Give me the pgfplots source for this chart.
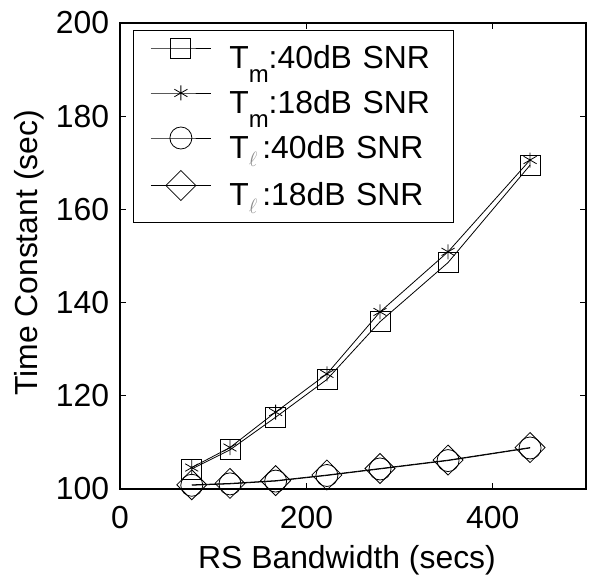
\documentclass[border=0pt]{standalone}
\usepackage{fontspec}
\setmainfont{Liberation Sans}
\usepackage{pgfplots}
\pgfplotsset{compat=1.18}

\newcommand{\subm}{\raisebox{-14bp}{\fontsize{24}{24}\selectfont m}}
\newcommand{\subl}{\raisebox{-8bp}{\textcolor{black!45}{$\scriptstyle\ell$}}\hspace{5bp}}

\begin{document}
\fontsize{32}{38}\selectfont
\begin{tikzpicture}
\begin{axis}[
  width=466bp, height=466bp, scale only axis,
  xmin=0, xmax=500, ymin=100, ymax=200,
  xtick={0,200,400}, ytick={100,120,...,200},
  tick align=inside, major tick length=6bp,
  axis line style={line width=1.1bp},
  tick style={line width=0.9bp, black},
  font=\fontsize{32}{38}\selectfont,
  /pgf/number format/assume math mode=true,
  xticklabel style={yshift=-6bp},
  xlabel={RS Bandwidth (secs)},
  ylabel={Time Constant (sec)},
  xlabel style={at={([xshift=-6bp,yshift=-79bp]axis description cs:0.5,0)}, anchor=base},
  ylabel style={at={([xshift=-82bp,yshift=3bp]axis description cs:0,0.5)}, anchor=base},
  clip=false,
  every axis plot/.append style={black, line width=0.8bp},
  legend style={at={(0,1)}, anchor=north west, xshift=13bp, yshift=-7bp,
    draw=black, line width=1bp, inner xsep=0bp, inner ysep=5bp,
    row sep=0bp, column sep=0bp,
    nodes={inner sep=0bp, text height=33bp, text depth=12bp, text width=224bp, align=left}},
  legend cell align=left,
  legend image code/.code={
    \path (-17bp,0bp) (78bp,0bp);
    \draw[mark repeat=2, mark phase=2, #1] plot coordinates {(0bp,10bp)(30bp,10bp)(60bp,10bp)};
  },
]
\addplot[mark=square, mark size=10bp, mark options={line width=0.8bp}] coordinates {
  (77,104.3)(118,108.4)(167,115.4)(222,123.5)(279,135.9)(352,148.6)(440,169.5)};
\addlegendentry{T\subm:40dB SNR}
\addplot[mark=asterisk, mark size=7.5bp, mark options={line width=0.8bp}] coordinates {
  (77,104.6)(118,108.9)(167,116.5)(222,124.7)(279,138.0)(352,150.9)(440,170.6)};
\addlegendentry{T\subm:18dB SNR}
\addplot[mark=o, mark size=11bp, mark options={line width=0.8bp}] coordinates {
  (77,100.8)(118,101.1)(167,101.7)(222,102.9)(279,104.3)(352,106.1)(440,108.8)};
\addlegendentry{T\subl:40dB SNR}
\addplot[mark=square, mark size=10.6bp, mark options={rotate=45, line width=0.8bp}] coordinates {
  (77,100.9)(118,101.2)(167,101.8)(222,103.0)(279,104.4)(352,106.2)(440,108.9)};
\addlegendentry{T\subl:18dB SNR}
\end{axis}
\pgfresetboundingbox
\path ([xshift=-120bp,yshift=-98bp]current axis.south west) rectangle ([xshift=16bp,yshift=23bp]current axis.north east);
\end{tikzpicture}
\end{document}
